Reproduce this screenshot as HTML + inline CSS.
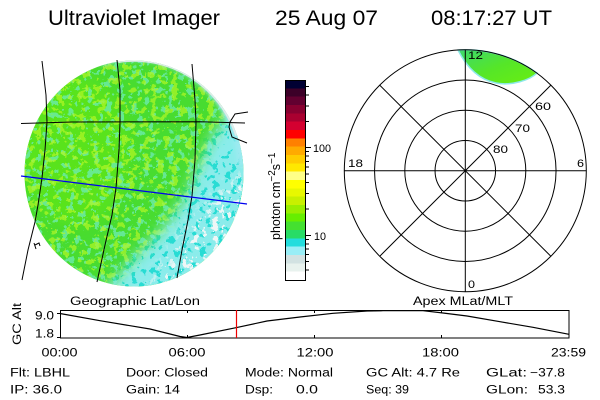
<!DOCTYPE html>
<html><head><meta charset="utf-8"><style>
html,body{margin:0;padding:0;background:#fff;}
svg{display:block;}
text{font-family:"Liberation Sans",sans-serif;fill:#000;}
</style></head><body>
<svg width="600" height="400" viewBox="0 0 600 400" xmlns="http://www.w3.org/2000/svg">
<defs>
  <clipPath id="disk"><ellipse cx="134" cy="173.5" rx="109.5" ry="113"/></clipPath>
  <filter id="blur8" x="-30%" y="-30%" width="160%" height="160%"><feGaussianBlur stdDeviation="7"/></filter>
  <filter id="blur5" x="-30%" y="-30%" width="160%" height="160%"><feGaussianBlur stdDeviation="5"/></filter>
  <filter id="blur2" x="-30%" y="-30%" width="160%" height="160%"><feGaussianBlur stdDeviation="2"/></filter>
  <filter id="spA" x="0" y="0" width="100%" height="100%">
    <feTurbulence type="fractalNoise" baseFrequency="0.16" numOctaves="3" seed="4"/>
    <feColorMatrix type="matrix" values="0 0 0 0 0.15  0 0 0 0 0.84  0 0 0 0 0.42  1 0 0 0 0"/>
    <feComponentTransfer><feFuncA type="discrete" tableValues="0 0 0 1 1"/></feComponentTransfer>
  </filter>
  <filter id="spB" x="0" y="0" width="100%" height="100%">
    <feTurbulence type="fractalNoise" baseFrequency="0.14" numOctaves="3" seed="11"/>
    <feColorMatrix type="matrix" values="0 0 0 0 0.45  0 0 0 0 0.93  0 0 0 0 0.02  1 0 0 0 0"/>
    <feComponentTransfer><feFuncA type="discrete" tableValues="0 0 0 1 1"/></feComponentTransfer>
  </filter>
  <filter id="spC" x="0" y="0" width="100%" height="100%">
    <feTurbulence type="fractalNoise" baseFrequency="0.16" numOctaves="3" seed="21"/>
    <feColorMatrix type="matrix" values="0 0 0 0 0.62  0 0 0 0 0.93  0 0 0 0 0.96  1 0 0 0 0"/>
    <feComponentTransfer><feFuncA type="discrete" tableValues="0 0 1 1 1"/></feComponentTransfer>
  </filter>
  <filter id="spD" x="0" y="0" width="100%" height="100%">
    <feTurbulence type="fractalNoise" baseFrequency="0.16" numOctaves="3" seed="33"/>
    <feColorMatrix type="matrix" values="0 0 0 0 0.86  0 0 0 0 0.92  0 0 0 0 0.92  1 0 0 0 0"/>
    <feComponentTransfer><feFuncA type="discrete" tableValues="0 0 0 1 1"/></feComponentTransfer>
  </filter>
  <mask id="cyanMask" maskUnits="userSpaceOnUse" x="0" y="0" width="300" height="300">
    <path d="M95,300 L114,280 L140,252 L166,225 L186,195 L199,165 L211,138 L226,118 L240,100 L228,80 L210,68 L270,40 L270,300 Z" fill="#fff" filter="url(#blur8)"/>
  </mask>
  <mask id="lightMask" maskUnits="userSpaceOnUse" x="0" y="0" width="300" height="300">
    <path d="M140,300 L160,268 L180,238 L200,212 L220,190 L240,175 L270,170 L270,300 Z" fill="#fff" filter="url(#blur8)"/>
  </mask>
  <linearGradient id="blobG" x1="0" y1="0" x2="1" y2="1">
    <stop offset="0" stop-color="#3cd870"/>
    <stop offset="0.5" stop-color="#55e628"/>
    <stop offset="1" stop-color="#6aee10"/>
  </linearGradient>
</defs>

<!-- Title -->
<text x="48" y="25" font-size="21" textLength="172" lengthAdjust="spacingAndGlyphs">Ultraviolet Imager</text>
<text x="275" y="25" font-size="21" textLength="103" lengthAdjust="spacingAndGlyphs">25 Aug 07</text>
<text x="431" y="25" font-size="21" textLength="121" lengthAdjust="spacingAndGlyphs">08:17:27 UT</text>

<!-- Globe -->
<g clip-path="url(#disk)">
  <rect x="20" y="55" width="230" height="235" fill="#48dc30"/>
  <ellipse cx="75" cy="150" rx="55" ry="75" fill="#68ea10" opacity="0.55" filter="url(#blur8)"/>
  <rect x="20" y="55" width="230" height="235" filter="url(#spA)" opacity="0.8"/>
  <rect x="20" y="55" width="230" height="235" filter="url(#spB)" opacity="0.7"/>
  <g mask="url(#cyanMask)">
    <rect x="20" y="55" width="250" height="245" fill="#28dcd4"/>
    <rect x="20" y="55" width="250" height="245" filter="url(#spC)" opacity="0.6"/>
  </g>
  <g mask="url(#lightMask)">
    <rect x="20" y="55" width="250" height="245" filter="url(#spD)"/>
  </g>
  <path d="M100,60 A109.5,113 0 0 1 243,165" fill="none" stroke="#9ceaf0" stroke-width="12" filter="url(#blur2)"/>
  <path d="M118,60 A109.5,113 0 0 1 238,135" fill="none" stroke="#dfeaea" stroke-width="6"/>
</g>
<!-- map lines -->
<g fill="none" stroke="#000" stroke-width="1">
  <polyline points="42,61 46,95 47,122 45,150 42,178 38,205 35,222 28,250 22,280"/>
  <polyline points="117,60 120,90 120,122 119,150 116,188 112,215 105,245 97,282"/>
  <polyline points="192,64 195,100 196,122 195,160 192,196 188,220 182,250 177,278"/>
  <polyline points="21,123.5 72,122 200,121.8 245,123"/>
  <polyline points="248,112 235,114 230,122 229,127 232,137 247,143"/>
  <path d="M34,243 L36,249 M35,245 L39,243 L40,246"/>
</g>
<line x1="21" y1="176" x2="247" y2="204" stroke="#0000ee" stroke-width="1.2"/>

<!-- Colorbar -->
<g shape-rendering="crispEdges">
  <rect x="285" y="80" width="20" height="8.4" fill="#000033"/>
  <rect x="285" y="88.33" width="20" height="8.4" fill="#3c0028"/>
  <rect x="285" y="96.67" width="20" height="8.4" fill="#620030"/>
  <rect x="285" y="105" width="20" height="8.4" fill="#880030"/>
  <rect x="285" y="113.33" width="20" height="8.4" fill="#aa0030"/>
  <rect x="285" y="121.67" width="20" height="8.4" fill="#d40030"/>
  <rect x="285" y="130" width="20" height="8.4" fill="#ff0000"/>
  <rect x="285" y="138.33" width="20" height="8.4" fill="#ff8000"/>
  <rect x="285" y="146.67" width="20" height="8.4" fill="#ffaa00"/>
  <rect x="285" y="155" width="20" height="8.4" fill="#ffcc00"/>
  <rect x="285" y="163.33" width="20" height="8.4" fill="#ffe800"/>
  <rect x="285" y="171.67" width="20" height="8.4" fill="#ffff88"/>
  <rect x="285" y="180" width="20" height="8.4" fill="#ffff00"/>
  <rect x="285" y="188.33" width="20" height="8.4" fill="#e8f800"/>
  <rect x="285" y="196.67" width="20" height="8.4" fill="#c8f000"/>
  <rect x="285" y="205" width="20" height="8.4" fill="#99ee00"/>
  <rect x="285" y="213.33" width="20" height="8.4" fill="#66ee00"/>
  <rect x="285" y="221.67" width="20" height="8.4" fill="#44e030"/>
  <rect x="285" y="230" width="20" height="8.4" fill="#28dc66"/>
  <rect x="285" y="238.33" width="20" height="8.4" fill="#22dddd"/>
  <rect x="285" y="246.67" width="20" height="8.4" fill="#99eef6"/>
  <rect x="285" y="255" width="20" height="8.4" fill="#d2e2e2"/>
  <rect x="285" y="263.33" width="20" height="8.4" fill="#e8f2ee"/>
  <rect x="285" y="271.67" width="20" height="8.33" fill="#ffffff"/>
  <rect x="285.5" y="80.5" width="20" height="200" fill="none" stroke="#000" stroke-width="1"/>
</g>
<g stroke="#000" stroke-width="1" shape-rendering="crispEdges">
  <line x1="305" y1="86.5" x2="309" y2="86.5"/>
  <line x1="305" y1="95" x2="309" y2="95"/>
  <line x1="305" y1="106" x2="309" y2="106"/>
  <line x1="305" y1="121.5" x2="309" y2="121.5"/>
  <line x1="305" y1="147.5" x2="311" y2="147.5"/>
  <line x1="305" y1="151.5" x2="309" y2="151.5"/>
  <line x1="305" y1="156" x2="309" y2="156"/>
  <line x1="305" y1="161.5" x2="309" y2="161.5"/>
  <line x1="305" y1="167" x2="309" y2="167"/>
  <line x1="305" y1="174" x2="309" y2="174"/>
  <line x1="305" y1="182.5" x2="309" y2="182.5"/>
  <line x1="305" y1="193.5" x2="309" y2="193.5"/>
  <line x1="305" y1="209" x2="309" y2="209"/>
  <line x1="305" y1="235.5" x2="311" y2="235.5"/>
  <line x1="305" y1="239.5" x2="309" y2="239.5"/>
  <line x1="305" y1="244" x2="309" y2="244"/>
  <line x1="305" y1="249" x2="309" y2="249"/>
  <line x1="305" y1="254.5" x2="309" y2="254.5"/>
  <line x1="305" y1="261.5" x2="309" y2="261.5"/>
  <line x1="305" y1="270" x2="309" y2="270"/>
</g>
<text x="313" y="152" font-size="11" textLength="18" lengthAdjust="spacingAndGlyphs">100</text>
<text x="314" y="240" font-size="11" textLength="12" lengthAdjust="spacingAndGlyphs">10</text>
<text transform="translate(280,240) rotate(-90)" font-size="12.5">photon cm<tspan dy="-5" font-size="10">−2</tspan><tspan dy="5" font-size="12.5">s</tspan><tspan dy="-5" font-size="10">−1</tspan></text>

<!-- Polar plot -->
<path d="M458,50 A121,121 0 0 1 537,73 C530,80 512,86 496,83 C481,80 468,70 458,50 Z" fill="url(#blobG)" stroke="#8ee8ea" stroke-width="1.5"/>
<g fill="none" stroke="#000" stroke-width="1">
  <circle cx="465.3" cy="170.7" r="121"/>
  <circle cx="465.3" cy="170.7" r="90.75"/>
  <circle cx="465.3" cy="170.7" r="60.5"/>
  <circle cx="465.3" cy="170.7" r="30.25"/>
  <line x1="465.3" y1="49.7" x2="465.3" y2="291.7"/>
  <line x1="344.3" y1="170.7" x2="586.3" y2="170.7"/>
  <line x1="379.7" y1="85.1" x2="550.9" y2="256.3"/>
  <line x1="379.7" y1="256.3" x2="550.9" y2="85.1"/>
</g>
<text x="468" y="59" font-size="11" textLength="15" lengthAdjust="spacingAndGlyphs">12</text>
<text x="348" y="167" font-size="11" textLength="15" lengthAdjust="spacingAndGlyphs">18</text>
<text x="577" y="167" font-size="11" textLength="7" lengthAdjust="spacingAndGlyphs">6</text>
<text x="468" y="288" font-size="11" textLength="7" lengthAdjust="spacingAndGlyphs">0</text>
<text x="535" y="110" font-size="11" textLength="16" lengthAdjust="spacingAndGlyphs">60</text>
<text x="515" y="132" font-size="11" textLength="15" lengthAdjust="spacingAndGlyphs">70</text>
<text x="493" y="153" font-size="11" textLength="15" lengthAdjust="spacingAndGlyphs">80</text>

<!-- Timeline -->
<text x="70" y="305" font-size="11.5" textLength="130" lengthAdjust="spacingAndGlyphs">Geographic Lat/Lon</text>
<text x="413" y="305" font-size="11.5" textLength="100" lengthAdjust="spacingAndGlyphs">Apex MLat/MLT</text>
<text transform="translate(21,345) rotate(-90)" font-size="11.5" textLength="42" lengthAdjust="spacingAndGlyphs">GC Alt</text>
<text x="35" y="319.3" font-size="11.5" textLength="19" lengthAdjust="spacingAndGlyphs">9.0</text>
<text x="35" y="337.3" font-size="11.5" textLength="19" lengthAdjust="spacingAndGlyphs">1.8</text>
<rect x="60.5" y="310.5" width="508.5" height="27.5" fill="none" stroke="#000" stroke-width="1" shape-rendering="crispEdges"/>
<g stroke="#000" stroke-width="1" shape-rendering="crispEdges">
  <line x1="187.5" y1="310" x2="187.5" y2="313"/><line x1="187.5" y1="335" x2="187.5" y2="338"/>
  <line x1="314.5" y1="310" x2="314.5" y2="313"/><line x1="314.5" y1="335" x2="314.5" y2="338"/>
  <line x1="441.5" y1="310" x2="441.5" y2="313"/><line x1="441.5" y1="335" x2="441.5" y2="338"/>
  <line x1="57" y1="313.5" x2="60" y2="313.5"/><line x1="57" y1="337.5" x2="60" y2="337.5"/>
</g>
<polyline points="60,313.5 100,320.7 150,329 180,336.5 187,337.5 200,335 236,327.7 267,321 300,317 333,313.3 367,311 383,310.7 423,310.7 443,313 467,316 500,321.7 533,327.3 569,334.3" fill="none" stroke="#000" stroke-width="1.2"/>
<line x1="236.5" y1="310" x2="236.5" y2="338" stroke="#ee0000" stroke-width="1.2"/>

<g font-size="11.5">
  <text x="59.5" y="356.5" text-anchor="middle" textLength="36" lengthAdjust="spacingAndGlyphs">00:00</text>
  <text x="187" y="356.5" text-anchor="middle" textLength="37" lengthAdjust="spacingAndGlyphs">06:00</text>
  <text x="315" y="356.5" text-anchor="middle" textLength="37" lengthAdjust="spacingAndGlyphs">12:00</text>
  <text x="440.5" y="356.5" text-anchor="middle" textLength="37" lengthAdjust="spacingAndGlyphs">18:00</text>
  <text x="568.5" y="356.5" text-anchor="middle" textLength="35" lengthAdjust="spacingAndGlyphs">23:59</text>

  <text x="10" y="376.7" textLength="60" lengthAdjust="spacingAndGlyphs">Flt: LBHL</text>
  <text x="126" y="376.7" textLength="82" lengthAdjust="spacingAndGlyphs">Door: Closed</text>
  <text x="245" y="376.7" textLength="88" lengthAdjust="spacingAndGlyphs">Mode: Normal</text>
  <text x="366" y="376.7" textLength="94" lengthAdjust="spacingAndGlyphs">GC Alt: 4.7 Re</text>
  <text x="486" y="376.7" textLength="41" lengthAdjust="spacingAndGlyphs">GLat:</text>
  <text x="530" y="376.7" textLength="35" lengthAdjust="spacingAndGlyphs">−37.8</text>

  <text x="10" y="393.7" textLength="52" lengthAdjust="spacingAndGlyphs">IP: 36.0</text>
  <text x="126" y="393.7" textLength="54" lengthAdjust="spacingAndGlyphs">Gain: 14</text>
  <text x="245" y="393.7" textLength="28" lengthAdjust="spacingAndGlyphs">Dsp:</text>
  <text x="296" y="393.7" textLength="22" lengthAdjust="spacingAndGlyphs">0.0</text>
  <text x="366" y="393.7" font-size="12" textLength="43" lengthAdjust="spacingAndGlyphs">Seq: 39</text>
  <text x="486" y="393.7" textLength="42" lengthAdjust="spacingAndGlyphs">GLon:</text>
  <text x="538" y="393.7" textLength="27" lengthAdjust="spacingAndGlyphs">53.3</text>
</g>
</svg>
</body></html>
